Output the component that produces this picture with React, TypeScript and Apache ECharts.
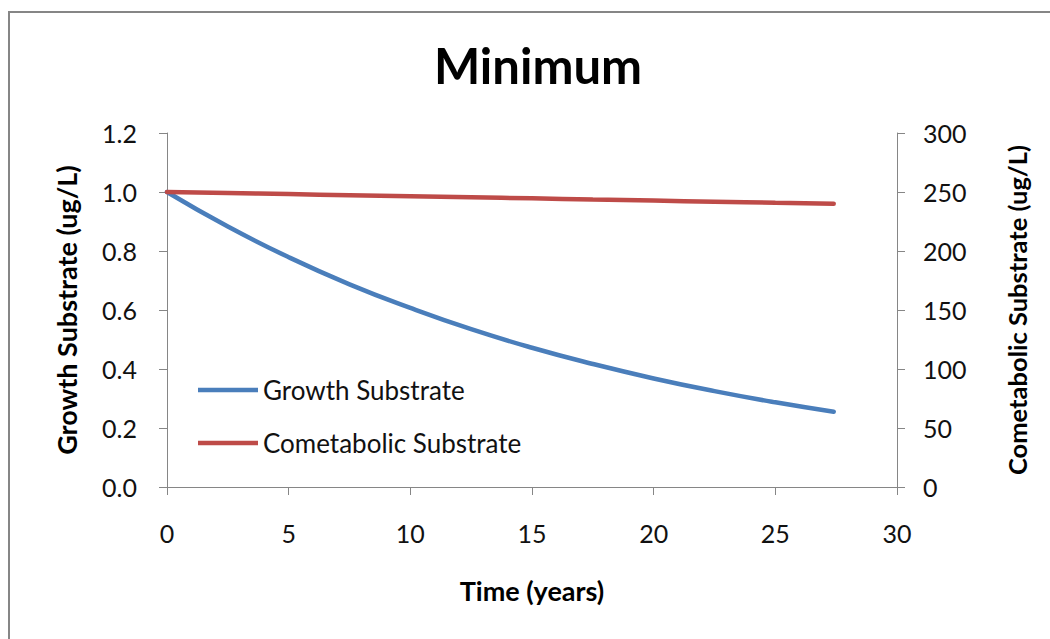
import React, { useEffect, useRef } from "react";
import * as echarts from "echarts";

const timeYears = [0, 2.5, 5, 7.5, 10, 12.5, 15, 17.5, 20, 22.5, 25, 27.4];
const growthSubstrate = [1.0, 0.883, 0.779, 0.687, 0.607, 0.535, 0.472, 0.417, 0.368, 0.325, 0.287, 0.255];
const cometabolicSubstrate = [250, 249.1, 248.2, 247.3, 246.4, 245.5, 244.6, 243.6, 242.7, 241.8, 240.9, 240.1];
const seriesNames = ["Growth Substrate", "Cometabolic Substrate"];
const titleText = "Minimum";
const xTitle = "Time (years)";
const leftTitle = "Growth Substrate (ug/L)";
const rightTitle = "Cometabolic Substrate (ug/L)";

const FONT = "Lato, 'Open Sans', sans-serif";
const AXIS_GRAY = "#868686";
const TEXT = "#111";

export default function App() {
  const ref = useRef<HTMLDivElement>(null);
  useEffect(() => {
    document.body.style.margin = "0";
    if (!ref.current) return;
    const chart = echarts.init(ref.current, null, { renderer: "svg" });
    const axisCommon = {
      axisLine: { show: true, lineStyle: { color: AXIS_GRAY, width: 1 } },
      axisTick: { show: true, inside: false, length: 8, lineStyle: { color: AXIS_GRAY } },
      splitLine: { show: false },
      axisLabel: { color: TEXT, fontSize: 25, fontFamily: FONT },
    };
    const nameStyle = { fontSize: 25.5, fontWeight: "bold", color: "#000", fontFamily: FONT };
    chart.setOption({
      animation: false,
      backgroundColor: "#fff",
      textStyle: { fontFamily: FONT },
      title: {
        text: titleText,
        left: 533,
        textAlign: "center",
        top: 35,
        textStyle: { fontSize: 49, fontWeight: "bold", color: "#000", fontFamily: FONT },
      },
      graphic: [
        {
          type: "rect",
          shape: { x: 9, y: 12, width: 1100, height: 700 },
          style: { fill: "none", stroke: AXIS_GRAY, lineWidth: 2 },
          silent: true,
        },
      ],
      grid: { left: 167, right: 153, top: 133, bottom: 152, containLabel: false },
      legend: {
        orient: "vertical",
        left: 198,
        top: 377,
        padding: 0,
        icon: "rect",
        itemWidth: 60,
        itemHeight: 4.5,
        itemGap: 27,
        textStyle: { fontSize: 26, color: TEXT, fontFamily: FONT, padding: [0, 0, 0, 0] },
        data: seriesNames,
      },
      xAxis: {
        type: "value",
        min: 0,
        max: 30,
        interval: 5,
        ...axisCommon,
        axisLabel: { ...axisCommon.axisLabel, margin: 33 },
        name: xTitle,
        nameLocation: "middle",
        nameGap: 90,
        nameTextStyle: { ...nameStyle, fontSize: 27 },
      },
      yAxis: [
        {
          type: "value",
          min: 0,
          max: 1.2,
          interval: 0.2,
          position: "left",
          ...axisCommon,
          axisLabel: { ...axisCommon.axisLabel, margin: 30, formatter: (v: number) => v.toFixed(1) },
          name: leftTitle,
          nameLocation: "middle",
          nameGap: 87,
          nameTextStyle: { ...nameStyle, fontSize: 27 },
        },
        {
          type: "value",
          min: 0,
          max: 300,
          interval: 50,
          position: "right",
          ...axisCommon,
          axisLabel: { ...axisCommon.axisLabel, margin: 26 },
          name: rightTitle,
          nameLocation: "middle",
          nameGap: 107,
          nameTextStyle: nameStyle,
        },
      ],
      series: [
        {
          name: seriesNames[0],
          type: "line",
          yAxisIndex: 0,
          smooth: true,
          symbol: "none",
          lineStyle: { color: "#4A7EBB", width: 4.5, cap: "round" },
          itemStyle: { color: "#4A7EBB" },
          data: timeYears.map((t, i) => [t, growthSubstrate[i]]),
        },
        {
          name: seriesNames[1],
          type: "line",
          yAxisIndex: 1,
          smooth: true,
          symbol: "none",
          lineStyle: { color: "#BE4B48", width: 4.5, cap: "round" },
          itemStyle: { color: "#BE4B48" },
          data: timeYears.map((t, i) => [t, cometabolicSubstrate[i]]),
        },
      ],
    });
    return () => chart.dispose();
  }, []);
  return <div ref={ref} style={{ width: 1050, height: 639 }} />;
}
